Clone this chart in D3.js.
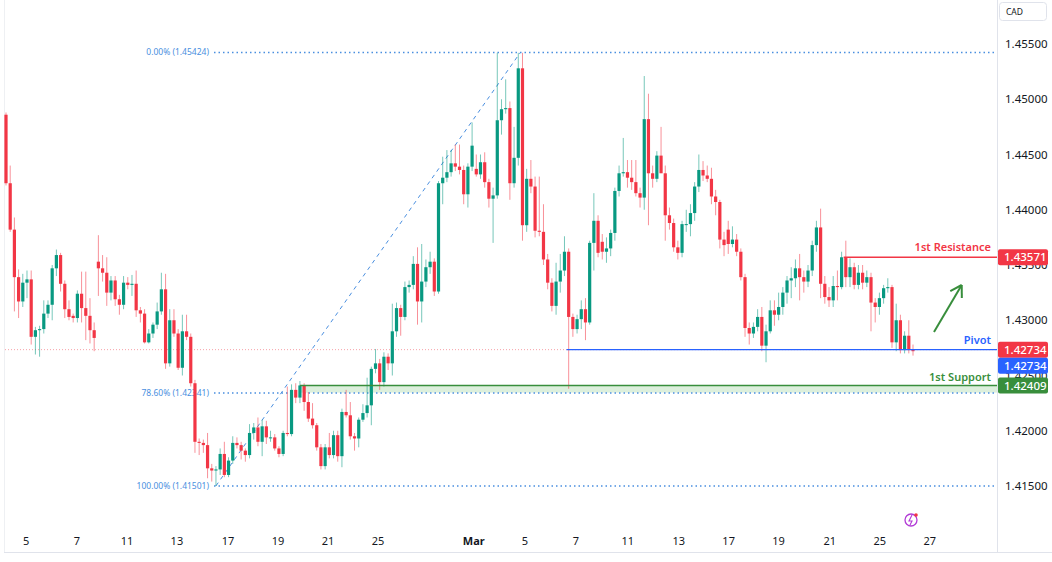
<!DOCTYPE html>
<html><head><meta charset="utf-8">
<script src="https://cdn.jsdelivr.net/npm/d3@7"></script>
<style>body{margin:0;background:#fff;font-family:"Noto Sans",Roboto,sans-serif}</style>
</head><body><svg id="c" width="1052" height="562"></svg>
<script>
// [open, high, low, close]
const candles = [
[1.4486,1.4488,1.4422,1.4424],[1.4424,1.4440,1.4380,1.4382],[1.4382,1.4393,1.4308,1.4339],[1.4339,1.4346,1.4302,1.4317],
[1.4317,1.4342,1.4312,1.4334],[1.4334,1.4345,1.4320,1.4337],[1.4337,1.4345,1.4278,1.4285],[1.4285,1.4294,1.4269,1.4291],
[1.4291,1.4295,1.4267,1.4292],[1.4292,1.4318,1.4288,1.4306],[1.4306,1.4318,1.4302,1.4314],[1.4314,1.4350,1.4300,1.4347],
[1.4347,1.4364,1.4340,1.4359],[1.4359,1.4361,1.4326,1.4333],[1.4333,1.4336,1.4302,1.4310],[1.4310,1.4318,1.4300,1.4303],
[1.4304,1.4306,1.4298,1.4302],[1.4302,1.4327,1.4298,1.4324],[1.4324,1.4344,1.4298,1.4311],[1.4311,1.4344,1.4282,1.4304],
[1.4304,1.4320,1.4279,1.4291],[1.4291,1.4298,1.4272,1.4284],[1.4353,1.4377,1.4322,1.4347],[1.4347,1.4359,1.4335,1.4343],
[1.4343,1.4357,1.4313,1.4325],[1.4325,1.4340,1.4318,1.4336],[1.4336,1.4340,1.4313,1.4319],[1.4319,1.4323,1.4305,1.4314],
[1.4314,1.4340,1.4310,1.4334],[1.4334,1.4339,1.4328,1.4332],[1.4332,1.4341,1.4322,1.4333],[1.4333,1.4345,1.4303,1.4309],
[1.4309,1.4312,1.4298,1.4306],[1.4306,1.4310,1.4279,1.4280],[1.4280,1.4292,1.4279,1.4288],[1.4288,1.4298,1.4284,1.4296],
[1.4296,1.4316,1.4292,1.4308],[1.4308,1.4343,1.4305,1.4328],[1.4328,1.4342,1.4256,1.4261],[1.4261,1.4310,1.4258,1.4300],
[1.4300,1.4310,1.4285,1.4288],[1.4288,1.4292,1.4255,1.4257],[1.4257,1.4305,1.4250,1.4290],[1.4290,1.4305,1.4282,1.4285],
[1.4285,1.4288,1.4240,1.4243],[1.4243,1.4246,1.4180,1.4190],[1.4190,1.4193,1.4178,1.4189],[1.4189,1.4192,1.4180,1.4187],
[1.4187,1.4198,1.4157,1.4166],[1.4166,1.4170,1.4154,1.4164],[1.4164,1.4168,1.4150,1.4165],[1.4165,1.4184,1.4160,1.4179],
[1.4179,1.4190,1.4158,1.4160],[1.4160,1.4176,1.4158,1.4173],[1.4173,1.4195,1.4170,1.4189],[1.4189,1.4194,1.4184,1.4187],
[1.4187,1.4190,1.4174,1.4182],[1.4182,1.4184,1.4172,1.4178],[1.4178,1.4206,1.4175,1.4198],[1.4198,1.4207,1.4192,1.4203],
[1.4203,1.4212,1.4186,1.4190],[1.4190,1.4210,1.4177,1.4204],[1.4204,1.4209,1.4188,1.4194],[1.4194,1.4200,1.4190,1.4194],
[1.4194,1.4197,1.4182,1.4184],[1.4184,1.4186,1.4176,1.4179],[1.4179,1.4200,1.4177,1.4198],[1.4198,1.4240,1.4195,1.4197],
[1.4197,1.4242,1.4195,1.4237],[1.4237,1.4243,1.4225,1.4230],[1.4230,1.4245,1.4225,1.4241],[1.4241,1.4243,1.4218,1.4226],
[1.4226,1.4235,1.4208,1.4211],[1.4211,1.4225,1.4202,1.4205],[1.4205,1.4207,1.4182,1.4185],[1.4185,1.4188,1.4165,1.4168],
[1.4168,1.4188,1.4165,1.4185],[1.4185,1.4198,1.4175,1.4178],[1.4178,1.4200,1.4175,1.4196],[1.4196,1.4200,1.4172,1.4177],
[1.4177,1.4220,1.4167,1.4217],[1.4217,1.4237,1.4212,1.4214],[1.4214,1.4226,1.4192,1.4195],[1.4195,1.4198,1.4182,1.4193],
[1.4193,1.4212,1.4185,1.4210],[1.4210,1.4224,1.4208,1.4216],[1.4216,1.4248,1.4212,1.4223],[1.4223,1.4258,1.4205,1.4256],
[1.4256,1.4274,1.4252,1.4261],[1.4261,1.4265,1.4237,1.4244],[1.4244,1.4271,1.4240,1.4267],[1.4267,1.4270,1.4255,1.4261],
[1.4261,1.4315,1.4250,1.4290],[1.4290,1.4316,1.4285,1.4311],[1.4311,1.4314,1.4286,1.4303],[1.4303,1.4335,1.4300,1.4330],
[1.4330,1.4336,1.4325,1.4332],[1.4332,1.4358,1.4328,1.4351],[1.4351,1.4366,1.4296,1.4317],[1.4317,1.4369,1.4298,1.4335],
[1.4335,1.4355,1.4330,1.4348],[1.4348,1.4362,1.4342,1.4353],[1.4353,1.4356,1.4322,1.4326],[1.4326,1.4426,1.4324,1.4424],
[1.4424,1.4448,1.4405,1.4429],[1.4429,1.4454,1.4425,1.4434],[1.4434,1.4454,1.4430,1.4442],[1.4442,1.4459,1.4435,1.4439],
[1.4439,1.4459,1.4432,1.4436],[1.4436,1.4440,1.4405,1.4414],[1.4414,1.4442,1.4402,1.4439],[1.4439,1.4479,1.4435,1.4458],
[1.4437,1.4450,1.4430,1.4432],[1.4432,1.4450,1.4428,1.4443],[1.4443,1.4452,1.4420,1.4425],[1.4425,1.4428,1.4402,1.4410],
[1.4410,1.4420,1.4370,1.4413],[1.4413,1.4542,1.4410,1.4481],[1.4481,1.4500,1.4468,1.4491],[1.4491,1.4518,1.4487,1.4492],
[1.4492,1.4498,1.4409,1.4424],[1.4424,1.4475,1.4420,1.4447],[1.4447,1.4542,1.4440,1.4528],[1.4528,1.4542,1.4372,1.4386],
[1.4386,1.4437,1.4380,1.4428],[1.4428,1.4445,1.4415,1.4421],[1.4421,1.4430,1.4375,1.4381],[1.4381,1.4430,1.4376,1.4380],
[1.4380,1.4405,1.4350,1.4355],[1.4355,1.4360,1.4328,1.4334],[1.4334,1.4338,1.4308,1.4313],[1.4313,1.4352,1.4305,1.4335],
[1.4335,1.4360,1.4325,1.4345],[1.4345,1.4376,1.4340,1.4362],[1.4362,1.4365,1.4238,1.4303],[1.4303,1.4306,1.4285,1.4292],
[1.4292,1.4305,1.4288,1.4301],[1.4301,1.4318,1.4292,1.4310],[1.4310,1.4320,1.4282,1.4298],[1.4298,1.4372,1.4296,1.4370],
[1.4370,1.4415,1.4345,1.4390],[1.4390,1.4395,1.4357,1.4361],[1.4371,1.4378,1.4355,1.4362],[1.4362,1.4375,1.4352,1.4365],
[1.4365,1.4382,1.4358,1.4379],[1.4379,1.4420,1.4372,1.4417],[1.4417,1.4440,1.4412,1.4433],[1.4433,1.4465,1.4430,1.4434],
[1.4434,1.4445,1.4420,1.4429],[1.4429,1.4445,1.4418,1.4425],[1.4425,1.4445,1.4412,1.4415],[1.4415,1.4420,1.4402,1.4411],
[1.4411,1.4521,1.4400,1.4482],[1.4482,1.4505,1.4386,1.4433],[1.4433,1.4440,1.4420,1.4428],[1.4428,1.4453,1.4425,1.4449],
[1.4449,1.4475,1.4440,1.4433],[1.4433,1.4440,1.4372,1.4395],[1.4395,1.4402,1.4382,1.4388],[1.4388,1.4392,1.4362,1.4366],
[1.4366,1.4372,1.4355,1.4361],[1.4361,1.4390,1.4357,1.4387],[1.4387,1.4400,1.4380,1.4387],[1.4387,1.4405,1.4376,1.4397],
[1.4397,1.4425,1.4390,1.4421],[1.4421,1.4450,1.4416,1.4436],[1.4436,1.4444,1.4426,1.4431],[1.4431,1.4440,1.4425,1.4428],
[1.4428,1.4438,1.4405,1.4412],[1.4412,1.4418,1.4395,1.4407],[1.4407,1.4409,1.4365,1.4373],[1.4373,1.4380,1.4358,1.4368],
[1.4382,1.4390,1.4360,1.4369],[1.4369,1.4385,1.4366,1.4373],[1.4373,1.4378,1.4358,1.4362],[1.4362,1.4365,1.4336,1.4339],
[1.4339,1.4342,1.4285,1.4293],[1.4293,1.4298,1.4278,1.4288],[1.4288,1.4298,1.4284,1.4294],[1.4294,1.4310,1.4290,1.4303],
[1.4303,1.4312,1.4272,1.4277],[1.4277,1.4296,1.4262,1.4290],[1.4290,1.4318,1.4288,1.4309],[1.4309,1.4318,1.4295,1.4305],
[1.4305,1.4325,1.4300,1.4312],[1.4312,1.4330,1.4305,1.4325],[1.4325,1.4340,1.4315,1.4336],[1.4336,1.4348,1.4320,1.4338],
[1.4338,1.4355,1.4330,1.4347],[1.4347,1.4360,1.4318,1.4339],[1.4339,1.4345,1.4325,1.4335],[1.4335,1.4350,1.4330,1.4345],
[1.4345,1.4372,1.4340,1.4368],[1.4368,1.4390,1.4362,1.4384],[1.4384,1.4401,1.4320,1.4333],[1.4333,1.4340,1.4315,1.4321],
[1.4321,1.4330,1.4312,1.4318],[1.4318,1.4340,1.4312,1.4331],[1.4331,1.4345,1.4318,1.4330],[1.4330,1.4362,1.4328,1.4357],
[1.4357,1.4372,1.4330,1.4339],[1.4339,1.4356,1.4330,1.4348],[1.4348,1.4352,1.4328,1.4332],[1.4332,1.4350,1.4328,1.4343],
[1.4343,1.4350,1.4328,1.4334],[1.4334,1.4345,1.4330,1.4339],[1.4339,1.4343,1.4290,1.4316],[1.4316,1.4320,1.4298,1.4312],
[1.4312,1.4325,1.4305,1.4320],[1.4320,1.4332,1.4315,1.4329],[1.4329,1.4338,1.4325,1.4330],[1.4330,1.4332,1.4275,1.4280],
[1.4280,1.4315,1.4272,1.4300],[1.4300,1.4305,1.4270,1.4273],[1.4273,1.4290,1.4270,1.4286],[1.4286,1.4300,1.4270,1.4273],
[1.4273,1.4278,1.4268,1.4272]
];
const dateTicks = [[4.8,"5"],[16.9,"7"],[28.8,"11"],[40.7,"13"],[52.9,"17"],[64.8,"19"],[76.7,"21"],[88.6,"25"],[111.4,"Mar"],
  [123.6,"5"],[135.7,"7"],[148.1,"11"],[160.2,"13"],[172.1,"17"],[184,"19"],[196.2,"21"],[208.1,"25"],[220,"27"]];
const priceTicks = [1.455,1.45,1.445,1.44,1.435,1.43,1.425,1.42,1.415];
const fibLevels = [["0.00%",1.45424],["78.60%",1.42341],["100.00%",1.41501]];
const fibTrend = [[50,1.41501],[122.5,1.45424]];
const current = 1.42734;
const resistance = {label:"1st Resistance",value:1.43571,from:199.5};
const pivot = {label:"Pivot",value:1.42734,from:133.5};
const support = {label:"1st Support",value:1.42409,low:1.42345,from:70};
const arrowPts = [[221,1.42894],[227.6,1.43319]];

const GREEN="#089981", RED="#f23645", BLUE="#2962ff", FIB="#4a8fe0", SGREEN="#388e3c";
const svg=d3.select("#c");
const x=d3.scaleLinear().domain([0,216]).range([6,913]);
const y=d3.scaleLinear().domain([1.415,1.455]).range([486,44]);
const RIGHT=997;

svg.append("line").attr("x1",RIGHT+0.5).attr("x2",RIGHT+0.5).attr("y1",0).attr("y2",552).attr("stroke","#e0e3eb");
svg.append("line").attr("x1",4).attr("x2",1052).attr("y1",552.5).attr("y2",552.5).attr("stroke","#e0e3eb");
svg.append("line").attr("x1",4.5).attr("x2",4.5).attr("y1",0).attr("y2",552).attr("stroke","#eef0f3");

svg.append("rect").attr("x",x(support.from)).attr("width",RIGHT-x(support.from))
  .attr("y",y(support.value)).attr("height",y(support.low)-y(support.value)).attr("fill","#dcefdc");
fibLevels.forEach(([t,v])=>{
  svg.append("line").attr("x1",214).attr("x2",RIGHT).attr("y1",y(v)).attr("y2",y(v))
    .attr("stroke",FIB).attr("stroke-width",1.5).attr("stroke-dasharray","1.5,3");
  svg.append("text").attr("x",209).attr("y",y(v)+3).attr("text-anchor","end").attr("font-size",8.5)
    .attr("fill",FIB).text(`${t} (${v.toFixed(5)})`);
});
svg.append("line").attr("x1",x(fibTrend[0][0])).attr("y1",y(fibTrend[0][1])).attr("x2",x(fibTrend[1][0])).attr("y2",y(fibTrend[1][1]))
  .attr("stroke",FIB).attr("stroke-width",1).attr("stroke-dasharray","4,4");
svg.append("line").attr("x1",5).attr("x2",RIGHT).attr("y1",y(current)).attr("y2",y(current))
  .attr("stroke","#f7a1a8").attr("stroke-width",1).attr("stroke-dasharray","1,2");

const g=svg.append("g");
candles.forEach((c,i)=>{
  const [o,h,l,cl]=c, col= cl>=o?GREEN:RED, cx=x(i);
  g.append("line").attr("x1",cx).attr("x2",cx).attr("y1",y(h)).attr("y2",y(l)).attr("stroke",col).attr("stroke-opacity",0.55).attr("stroke-width",1);
  const top=y(Math.max(o,cl)), bot=y(Math.min(o,cl));
  g.append("rect").attr("x",cx-1.6).attr("width",3.2).attr("y",top).attr("height",Math.max(1,bot-top)).attr("fill",col);
});

svg.append("line").attr("x1",x(support.from)).attr("x2",RIGHT).attr("y1",y(support.value)).attr("y2",y(support.value)).attr("stroke",SGREEN).attr("stroke-width",1.5);
svg.append("line").attr("x1",x(pivot.from)).attr("x2",RIGHT).attr("y1",y(pivot.value)).attr("y2",y(pivot.value)).attr("stroke",BLUE).attr("stroke-width",1.2);
svg.append("line").attr("x1",x(resistance.from)).attr("x2",RIGHT).attr("y1",y(resistance.value)).attr("y2",y(resistance.value)).attr("stroke",RED).attr("stroke-width",1.5);
[[resistance,RED,-6],[pivot,BLUE,-6],[support,SGREEN,-5]].forEach(([L,col,dy])=>{
  svg.append("text").attr("x",991).attr("y",y(L.value)+dy).attr("text-anchor","end").attr("font-size",11)
    .attr("font-weight",600).attr("fill",col).text(L.label);
});

const a0=[x(arrowPts[0][0]),y(arrowPts[0][1])], a1=[x(arrowPts[1][0]),y(arrowPts[1][1])];
svg.append("line").attr("x1",a0[0]).attr("y1",a0[1]).attr("x2",a1[0]).attr("y2",a1[1]).attr("stroke",SGREEN).attr("stroke-width",2);
const ang=Math.atan2(a1[1]-a0[1],a1[0]-a0[0]);
[ang+2.6,ang-2.6].forEach(t=>svg.append("line").attr("x1",a1[0]).attr("y1",a1[1])
  .attr("x2",a1[0]+13*Math.cos(t)).attr("y2",a1[1]+13*Math.sin(t)).attr("stroke",SGREEN).attr("stroke-width",2));

priceTicks.forEach(v=>svg.append("text").attr("x",1005).attr("y",y(v)+4).attr("font-size",11.5).attr("fill","#131722").text(v.toFixed(5)));
[[resistance.value,RED],[current,RED],[pivot.value,BLUE],[support.value,SGREEN]].forEach(([v,col],k)=>{
  const yy = k===2 ? y(v)+16 : y(v);
  svg.append("rect").attr("x",998).attr("y",yy-8).attr("width",50).attr("height",16).attr("rx",2).attr("fill",col);
  svg.append("text").attr("x",1004).attr("y",yy+4).attr("font-size",11.5).attr("font-weight",500).attr("fill","#fff").text(v.toFixed(5));
});
svg.append("rect").attr("x",999.5).attr("y",2.5).attr("width",47).attr("height",18).attr("rx",3).attr("fill","#fff").attr("stroke","#e0e3eb");
svg.append("text").attr("x",1006).attr("y",15).attr("font-size",8.5).attr("fill","#131722").text("CAD");

dateTicks.forEach(([i,t])=>svg.append("text").attr("x",x(i)).attr("y",545).attr("text-anchor","middle")
  .attr("font-size",11).attr("font-weight",t==="Mar"?"bold":"normal").attr("fill","#131722").text(t));

svg.append("circle").attr("cx",911).attr("cy",520).attr("r",6).attr("fill","none").attr("stroke","#b23ad6").attr("stroke-width",1.3);
svg.append("path").attr("d","M912,515 L909,521 L912,521 L910,525").attr("fill","none").attr("stroke","#b23ad6").attr("stroke-width",1.1);
svg.append("circle").attr("cx",916).attr("cy",515).attr("r",1.8).attr("fill",RED);
</script></body></html>
